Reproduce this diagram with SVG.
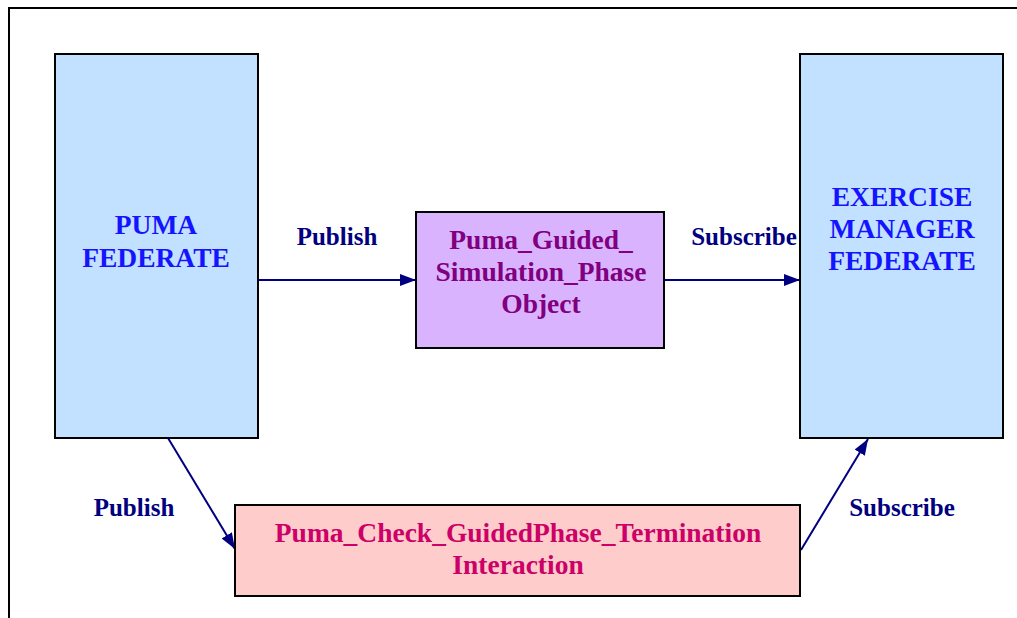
<svg xmlns="http://www.w3.org/2000/svg" width="1017" height="618" viewBox="0 0 1017 618">
<style>
text{font-family:"Liberation Serif","Times New Roman",serif;font-weight:bold;text-anchor:middle}
.fed{fill:#C2E0FF;stroke:#000;stroke-width:2}
.fedt{fill:#1414FF;font-size:27.5px}
.lbl{fill:#000080;font-size:25px}
.con{stroke:#000080;stroke-width:2;fill:none;marker-end:url(#ah)}
.obj{fill:#800080;font-size:27.5px}
.int{fill:#CC0066;font-size:27.5px}
</style>
<defs>
<marker id="ah" viewBox="0 0 16 12" refX="16" refY="6" markerWidth="16" markerHeight="12" markerUnits="userSpaceOnUse" orient="auto">
<path d="M0,0 L16,6 L0,12 Z" fill="#000080"/>
</marker>
</defs>
<rect width="1017" height="618" fill="#fff"/>
<path d="M9,618 L9,8 L1017,8" fill="none" stroke="#000" stroke-width="2"/>
<g id="connectors">
<line class="con" x1="258" y1="280" x2="416" y2="280"/>
<line class="con" x1="664" y1="280" x2="800" y2="280"/>
<line class="con" x1="168" y1="438" x2="235" y2="549"/>
<line class="con" x1="801" y1="550" x2="868" y2="439"/>
<text class="lbl" x="337" y="245">Publish</text>
<text class="lbl" x="744" y="245">Subscribe</text>
<text class="lbl" x="134" y="516">Publish</text>
<text class="lbl" x="902" y="516">Subscribe</text>
</g>
<g id="puma">
<rect class="fed" x="55" y="54" width="203" height="384"/>
<text class="fedt" x="156" y="234">PUMA</text>
<text class="fedt" x="156" y="267">FEDERATE</text>
</g>
<g id="exercise">
<rect class="fed" x="800" y="54" width="203" height="384"/>
<text class="fedt" x="902" y="206">EXERCISE</text>
<text class="fedt" x="902" y="238">MANAGER</text>
<text class="fedt" x="902" y="270">FEDERATE</text>
</g>
<g id="object">
<rect x="416" y="212" width="248" height="136" fill="#DAB3FF" stroke="#000" stroke-width="2"/>
<text class="obj" x="541" y="249">Puma_Guided_</text>
<text class="obj" x="541" y="281">Simulation_Phase</text>
<text class="obj" x="541" y="313">Object</text>
</g>
<g id="interaction">
<rect x="235" y="505" width="565" height="91" fill="#FFCCCC" stroke="#000" stroke-width="2"/>
<text class="int" x="518" y="542">Puma_Check_GuidedPhase_Termination</text>
<text class="int" x="518" y="574">Interaction</text>
</g>
</svg>
